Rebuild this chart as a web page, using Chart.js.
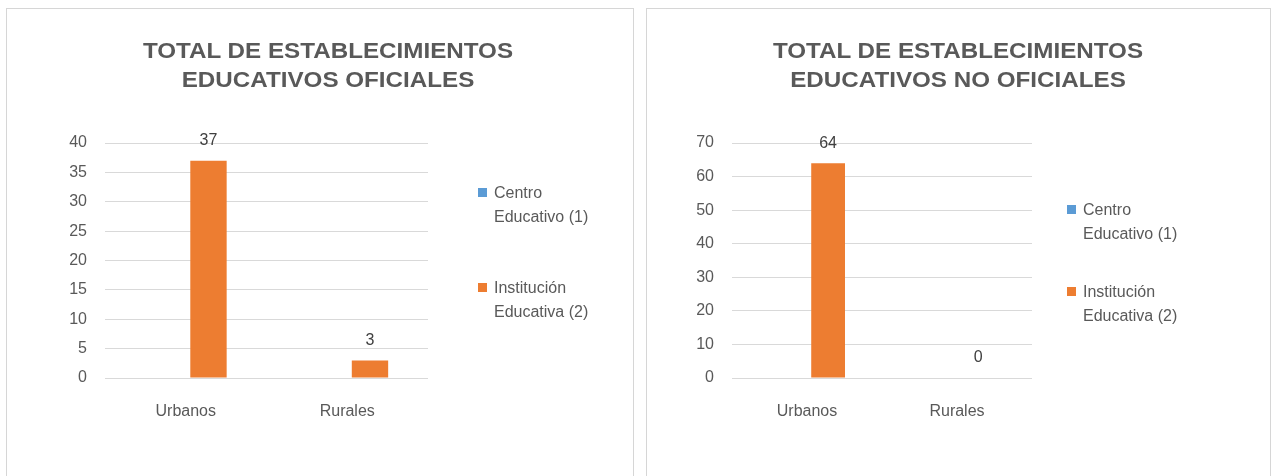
<!DOCTYPE html>
<html>
<head>
<meta charset="utf-8">
<script src="https://cdn.jsdelivr.net/npm/chart.js@4.4.1/dist/chart.umd.min.js"></script>
<style>
  body { margin: 0; background: #fff; width: 1273px; height: 476px; overflow: hidden; position: relative; }
  .panel { position: absolute; top: 8px; height: 480px; border: 1px solid #d6d6d6; box-sizing: border-box; background: #fff; }
  .panel canvas { position: absolute; left: 0; top: 0; }
  .ttl { position: absolute; width: 600px; text-align: center; font: bold 22px "Liberation Sans", Arial, sans-serif;
         line-height: 29px; color: #595959; transform: scaleX(1.1); white-space: nowrap; }
  .leg { position: absolute; display: flex; align-items: flex-start; font: 16px "Liberation Sans", Arial, sans-serif;
         color: #595959; line-height: 24px; }
  .leg i { display: block; width: 9px; height: 9px; margin-top: 7px; margin-right: 7px; flex: none; }
  .leg span { width: 110px; }
</style>
</head>
<body>
<div class="panel" id="p1" style="left:6px;width:628px"><canvas id="c1" width="626" height="470"></canvas></div>
<div class="panel" id="p2" style="left:646px;width:625px"><canvas id="c2" width="623" height="470"></canvas></div>
<script>
const categories = ['Urbanos', 'Rurales']
const seriesNames = ['Centro Educativo (1)', 'Institución Educativa (2)']
const seriesColors = ['#5B9BD5', '#ED7D31']

const oficialesCentro = [0, 0]
const oficialesInstitucion = [37, 3]
const noOficialesCentro = [0, 0]
const noOficialesInstitucion = [64, 0]

const titleOficiales = ['TOTAL DE ESTABLECIMIENTOS', 'EDUCATIVOS OFICIALES']
const titleNoOficiales = ['TOTAL DE ESTABLECIMIENTOS', 'EDUCATIVOS NO OFICIALES']

const FONT = '"Liberation Sans", Arial, sans-serif'
const TXT = '#595959'

// numbers drawn above the bars of the listed datasets
const valueLabels = {
  id: 'valueLabels',
  afterDatasetsDraw(chart, args, opts) {
    const { ctx } = chart
    ctx.save()
    ctx.font = '16px ' + FONT
    ctx.fillStyle = '#404040'
    ctx.textAlign = 'center'
    ctx.textBaseline = 'middle'
    ;(opts.datasets || []).forEach(i => {
      chart.getDatasetMeta(i).data.forEach((bar, j) => {
        ctx.fillText(chart.data.datasets[i].data[j], bar.x, bar.y - opts.offset)
      })
    })
    ctx.restore()
  },
}

function mkChart(cfg) {
  const panel = document.getElementById(cfg.panel)
  const t = document.createElement('div')
  t.className = 'ttl'
  t.style.left = (cfg.titleX - 300) + 'px'
  t.style.top = cfg.titleY + 'px'
  t.innerHTML = cfg.title.join('<br>')
  panel.appendChild(t)

  const chart = new Chart(document.getElementById(cfg.canvas), {
    type: 'bar',
    data: {
      labels: categories,
      datasets: cfg.series.map((d, i) => ({
        label: seriesNames[i], data: d, backgroundColor: seriesColors[i], borderWidth: 0,
        categoryPercentage: 0.563, barPercentage: 0.8,
      })),
    },
    options: {
      responsive: false, animation: false,
      layout: { padding: { top: 134, right: cfg.padRight, bottom: 61, left: 0 } },
      plugins: {
        legend: { display: false }, tooltip: { enabled: false }, title: { display: false },
        valueLabels: { datasets: [1], offset: 20 },
      },
      scales: {
        x: {
          grid: { display: false }, border: { display: false },
          ticks: { color: TXT, font: { family: FONT, size: 16 }, padding: 16 },
          afterFit: s => { s.height = 40 },
        },
        y: {
          min: 0, max: cfg.max,
          grid: { color: '#d9d9d9', drawTicks: false }, border: { display: false },
          ticks: { stepSize: cfg.step, color: TXT, font: { family: FONT, size: 16 }, padding: 18 },
          afterFit: s => { s.width = cfg.axisW },
        },
      },
    },
    plugins: [valueLabels],
  })

  // legend built from the datasets, laid out like the original (wrapped, stacked)
  chart.data.datasets.forEach((ds, i) => {
    const el = document.createElement('div')
    el.className = 'leg'
    el.style.left = cfg.legX + 'px'
    el.style.top = cfg.legTops[i] + 'px'
    el.innerHTML = '<i style="background:' + ds.backgroundColor + '"></i><span>' + ds.label + '</span>'
    panel.appendChild(el)
  })
}

mkChart({
  panel: 'p1', canvas: 'c1', title: titleOficiales, titleX: 321, titleY: 27,
  series: [oficialesCentro, oficialesInstitucion], max: 40, step: 5,
  axisW: 98, padRight: 205, legX: 471, legTops: [172, 267],
})
mkChart({
  panel: 'p2', canvas: 'c2', title: titleNoOficiales, titleX: 311, titleY: 27,
  series: [noOficialesCentro, noOficialesInstitucion], max: 70, step: 10,
  axisW: 85, padRight: 238, legX: 420, legTops: [189, 271],
})
</script>
</body>
</html>
